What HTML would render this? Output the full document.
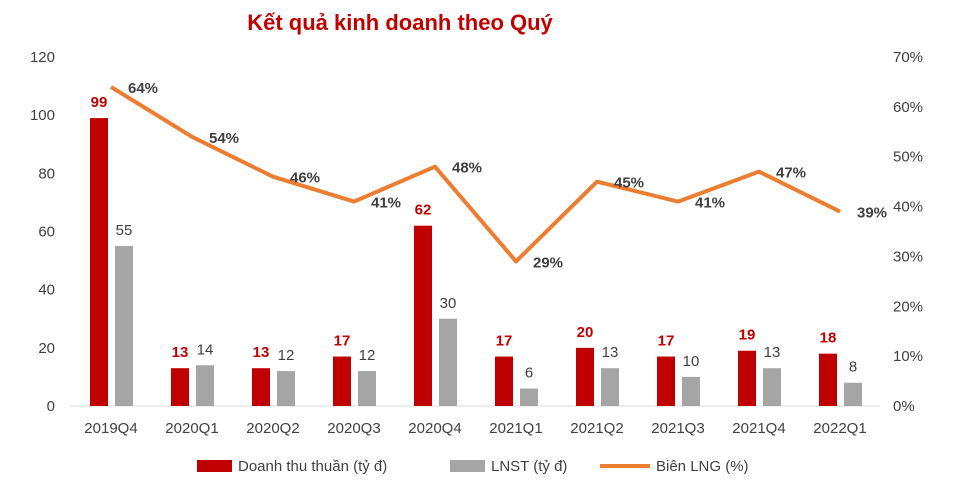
<!DOCTYPE html>
<html><head><meta charset="utf-8"><style>
body{margin:0;background:#fff;}
svg{display:block;font-family:"Liberation Sans",Arial,sans-serif;}
</style></head><body>
<svg id="chart" width="956" height="493" viewBox="0 0 956 493">
<text x="400" y="30" text-anchor="middle" font-size="22" font-weight="bold" fill="#c00000">Kết quả kinh doanh theo Quý</text>
<g id="axes"></g><g id="bars"></g><g id="line"></g><g id="labels"></g>
<g>
<rect x="197" y="460" width="35" height="12" fill="#c00000"/>
<text x="238" y="471" font-size="15" fill="#404040">Doanh thu thuần (tỷ đ)</text>
<rect x="450" y="460" width="35" height="12" fill="#a5a5a5"/>
<text x="491" y="471" font-size="15" fill="#404040">LNST (tỷ đ)</text>
<line x1="600" y1="466" x2="650" y2="466" stroke="#ed7d31" stroke-width="4"/>
<text x="656" y="471" font-size="15" fill="#404040">Biên LNG (%)</text>
</g>
</svg>
<script>
const categories=["2019Q4","2020Q1","2020Q2","2020Q3","2020Q4","2021Q1","2021Q2","2021Q3","2021Q4","2022Q1"];
const revenue=[99,13,13,17,62,17,20,17,19,18];
const profit=[55,14,12,12,30,6,13,10,13,8];
const margin=[64,54,46,41,48,29,45,41,47,39];
const leftTicks=[0,20,40,60,80,100,120];
const rightTicks=[0,10,20,30,40,50,60,70];
const NS="http://www.w3.org/2000/svg";
const y0=406,yTop=57;
const yL=v=>y0-v/120*(y0-yTop);
const yR=v=>y0-v/70*(y0-yTop);
const xC=i=>111+i*81;
function mk(parent,tag,attrs,txt){const e=document.createElementNS(NS,tag);for(const k in attrs)e.setAttribute(k,attrs[k]);if(txt!==undefined)e.textContent=txt;document.getElementById(parent).appendChild(e);return e;}
const ax=mk("axes","line",{x1:70,y1:y0,x2:880,y2:y0,stroke:"#d9d9d9","stroke-width":1});


leftTicks.forEach(v=>{const t=mk("axes","text",{x:55,y:yL(v)+5,"text-anchor":"end","font-size":15,fill:"#404040"},v);

});
rightTicks.forEach(v=>{const t=mk("axes","text",{x:893,y:yR(v)+5,"font-size":15,fill:"#404040"},v+"%");

});
categories.forEach((c,i)=>{const t=mk("axes","text",{x:xC(i),y:433,"text-anchor":"middle","font-size":15,fill:"#404040"},c);

});
revenue.forEach((v,i)=>{const x=xC(i)-21;
const r=mk("bars","rect",{x:x,y:yL(v),width:18,height:y0-yL(v),fill:"#c00000"});


const t=mk("labels","text",{x:x+9,y:yL(v)-11,"text-anchor":"middle","font-size":15,"font-weight":"bold",fill:"#c00000"},v);

});
profit.forEach((v,i)=>{const x=xC(i)+4;
const r=mk("bars","rect",{x:x,y:yL(v),width:18,height:y0-yL(v),fill:"#a5a5a5"});


const t=mk("labels","text",{x:x+9,y:yL(v)-11,"text-anchor":"middle","font-size":15,fill:"#404040"},v);

});
const pts=margin.map((v,i)=>xC(i)+","+yR(v)).join(" ");
const pl=mk("line","polyline",{points:pts,fill:"none",stroke:"#ed7d31","stroke-width":4,"stroke-linejoin":"round"});


margin.forEach((v,i)=>{const t=mk("labels","text",{x:xC(i)+17,y:yR(v)+6,"font-size":15,"font-weight":"bold",fill:"#404040"},v+"%");

});
</script>
</body></html>
